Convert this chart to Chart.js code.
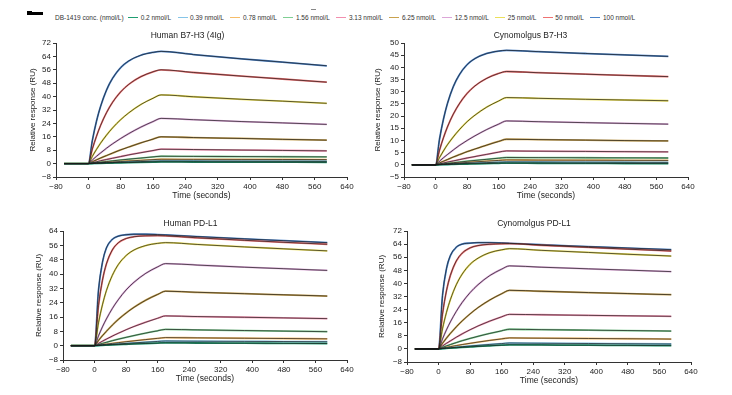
<!DOCTYPE html>
<html>
<head>
<meta charset="utf-8">
<script src="https://cdn.jsdelivr.net/npm/chart.js@4.4.1/dist/chart.umd.min.js"></script>
<style>
  html, body { margin: 0; padding: 0; background: #fff; }
  body { width: 732px; height: 395px; position: relative; overflow: hidden; font-family: 'Liberation Sans', Arial, sans-serif; }
  canvas { position: absolute; }
  #legend { position: absolute; left: 55px; top: 14px; display: flex; align-items: center; font-size: 6.5px; color: #333; white-space: nowrap; }
  #legend .item { display: flex; align-items: center; margin-left: 6.5px; }
  #legend .sw { display: inline-block; width: 10px; height: 1.5px; margin-right: 2.5px; }
  #legend .head { margin-right: -2px; }
  .mark { position: absolute; background: #000; }
</style>
</head>
<body>
<div class="mark" style="left:27px;top:12px;width:16px;height:3px"></div>
<div class="mark" style="left:27px;top:11px;width:5px;height:4px"></div>
<div class="mark" style="left:311px;top:9px;width:5px;height:1px;background:#888"></div>
<div id="legend"></div>
<script>
const FONT = "'Liberation Sans', Arial, sans-serif"
const INK = '#222'

// sample times (s): baseline, association 0-180, dissociation to 590
const times = [-60, 0, 10, 20, 30, 45, 60, 80, 100, 130, 160, 180, 260, 380, 480, 590]

const concLabels = ['0.2 nmol/L', '0.39 nmol/L', '0.78 nmol/L', '1.56 nmol/L', '3.13 nmol/L',
  '6.25 nmol/L', '12.5 nmol/L', '25 nmol/L', '50 nmol/L', '100 nmol/L']

const lineColors = ['#1f9e72', '#86c5e8', '#f6bd6a', '#7fcf93', '#f28fae',
  '#c9a24e', '#dca6d8', '#ece05a', '#ef7272', '#4a82c8']

const timeTicks = [-80, 0, 80, 160, 240, 320, 400, 480, 560, 640]
const yTicksHumanB7H3 = [-8, 0, 8, 16, 24, 32, 40, 48, 56, 64, 72]
const yTicksCynoB7H3 = [-5, 0, 5, 10, 15, 20, 25, 30, 35, 40, 45, 50]
const yTicksHumanPDL1 = [-8, 0, 8, 16, 24, 32, 40, 48, 56, 64]
const yTicksCynoPDL1 = [-8, 0, 8, 16, 24, 32, 40, 48, 56, 64, 72]

// one row per concentration, same order as concLabels
const humanB7H3 = [
  [0, 0, 0.06, 0.13, 0.19, 0.28, 0.37, 0.49, 0.6, 0.76, 0.91, 1.0, 0.95, 0.9, 0.85, 0.8],
  [0, 0, 0.1, 0.21, 0.31, 0.46, 0.6, 0.78, 0.96, 1.21, 1.45, 1.6, 1.55, 1.5, 1.45, 1.4],
  [0, 0, 0.17, 0.34, 0.5, 0.74, 0.97, 1.27, 1.56, 1.97, 2.36, 2.6, 2.55, 2.5, 2.45, 2.4],
  [0, 0, 0.29, 0.57, 0.85, 1.25, 1.65, 2.15, 2.64, 3.33, 3.99, 4.4, 4.3, 4.2, 4.1, 4.0],
  [0, 0, 0.56, 1.1, 1.7, 2.45, 3.2, 4.2, 5.2, 6.5, 7.8, 8.6, 8.4, 8.1, 7.85, 7.6],
  [0, 0, 1.1, 2.2, 3.3, 4.8, 6.3, 8.2, 9.9, 12.4, 14.6, 16, 15.55, 15, 14.5, 14],
  [0, 0, 2.2, 4.3, 6.3, 9.2, 11.8, 15, 17.9, 21.8, 25.1, 27, 26.2, 25.1, 24.3, 23.4],
  [0, 0, 4.4, 8.4, 12.1, 17, 21.3, 26.2, 30.3, 35.3, 39, 41, 39.9, 38.4, 37.3, 36],
  [0, 0, 8.8, 16.2, 22.6, 30.4, 36.6, 42.8, 47.3, 51.9, 54.8, 56, 54.4, 52.2, 50.5, 48.6],
  [0, 0, 13.9, 25.1, 33.9, 43.9, 50.9, 57.3, 61.3, 64.7, 66.4, 67, 65.1, 62.5, 60.6, 58.4]
]

const cynoB7H3 = [
  [0, 0, 0.05, 0.09, 0.14, 0.2, 0.26, 0.34, 0.42, 0.53, 0.63, 0.7, 0.65, 0.6, 0.55, 0.5],
  [0, 0, 0.08, 0.16, 0.23, 0.34, 0.45, 0.59, 0.72, 0.91, 1.09, 1.2, 1.15, 1.1, 1.05, 1.0],
  [0, 0, 0.13, 0.26, 0.39, 0.57, 0.75, 0.98, 1.2, 1.51, 1.81, 2.0, 1.95, 1.9, 1.85, 1.8],
  [0, 0, 0.2, 0.39, 0.58, 0.86, 1.12, 1.47, 1.8, 2.27, 2.72, 3.0, 2.95, 2.9, 2.85, 2.8],
  [0, 0, 0.37, 0.74, 1.1, 1.6, 2.1, 2.8, 3.4, 4.3, 5.2, 5.7, 5.6, 5.5, 5.4, 5.3],
  [0, 0, 0.75, 1.46, 2.16, 3.2, 4.15, 5.4, 6.5, 8.1, 9.6, 10.5, 10.35, 10.15, 9.95, 9.8],
  [0, 0, 1.5, 2.9, 4.2, 6.1, 7.9, 10, 11.9, 14.5, 16.7, 18, 17.7, 17.3, 17, 16.7],
  [0, 0, 2.95, 5.7, 8.2, 11.45, 14.35, 17.7, 20.4, 23.7, 26.2, 27.6, 27.3, 26.9, 26.6, 26.3],
  [0, 0, 6, 11.1, 15.5, 20.8, 25, 29.3, 32.4, 35.5, 37.5, 38.3, 37.8, 37.2, 36.7, 36.2],
  [0, 0, 10.5, 18.7, 25.1, 32.1, 36.9, 41.1, 43.6, 45.7, 46.7, 47, 46.45, 45.7, 45.1, 44.5]
]

const humanPDL1 = [
  [0, 0, 0.1, 0.21, 0.31, 0.46, 0.6, 0.78, 0.96, 1.21, 1.45, 1.6, 1.5, 1.4, 1.3, 1.2],
  [0, 0, 0.17, 0.34, 0.5, 0.74, 0.97, 1.27, 1.56, 1.97, 2.36, 2.6, 2.5, 2.4, 2.3, 2.2],
  [0, 0, 0.29, 0.59, 0.87, 1.28, 1.68, 2.2, 2.7, 3.4, 4.08, 4.5, 4.35, 4.15, 4, 3.8],
  [0, 0, 0.65, 1.26, 1.87, 2.76, 3.6, 4.65, 5.65, 7.05, 8.3, 9.1, 8.8, 8.45, 8.15, 7.8],
  [0, 0, 1.26, 2.5, 3.65, 5.35, 6.9, 8.9, 10.7, 13.1, 15.3, 16.6, 16.25, 15.85, 15.5, 15.1],
  [0, 0, 2.9, 5.6, 8, 11.5, 14.6, 18.2, 21.4, 25.4, 28.6, 30.4, 29.8, 29, 28.4, 27.7],
  [0, 0, 5.5, 10.5, 14.9, 20.7, 25.6, 31.1, 35.4, 40.4, 44, 45.8, 45, 43.8, 42.95, 42],
  [0, 0, 12.8, 22.8, 30.7, 39.2, 45.2, 50.3, 53.4, 55.9, 57.1, 57.5, 56.5, 55.1, 54.05, 52.9],
  [0, 0, 22.3, 36.5, 45.6, 53.4, 57.4, 59.8, 60.8, 61.3, 61.4, 61.3, 60.2, 58.8, 57.7, 56.6],
  [0, 0, 31, 46.5, 54.5, 59.3, 61.1, 61.9, 62.2, 62.2, 62, 61.8, 60.9, 59.6, 58.6, 57.5]
]

const cynoPDL1 = [
  [0, 0, 0.16, 0.33, 0.48, 0.71, 0.94, 1.22, 1.5, 1.89, 2.27, 2.5, 2.4, 2.25, 2.15, 2.0],
  [0, 0, 0.23, 0.47, 0.69, 1.03, 1.35, 1.76, 2.16, 2.73, 3.26, 3.6, 3.45, 3.3, 3.15, 3.0],
  [0, 0, 0.48, 0.93, 1.38, 2.03, 2.65, 3.42, 4.16, 5.19, 6.12, 6.7, 6.55, 6.35, 6.2, 6.0],
  [0, 0, 0.9, 1.8, 2.65, 3.85, 5, 6.4, 7.7, 9.45, 11.05, 12, 11.75, 11.45, 11.2, 10.9],
  [0, 0, 1.75, 3.4, 4.9, 7.15, 9.2, 11.7, 14, 17, 19.6, 21.1, 20.85, 20.5, 20.2, 19.9],
  [0, 0, 3.4, 6.55, 9.45, 13.5, 17.1, 21.4, 25.2, 29.9, 33.7, 35.8, 35.2, 34.4, 33.8, 33.1],
  [0, 0, 6.1, 11.6, 16.5, 22.9, 28.4, 34.4, 39.2, 44.8, 48.7, 50.7, 49.9, 48.9, 48.1, 47.2],
  [0, 0, 12.3, 22.2, 30.1, 39.2, 45.7, 51.7, 55.4, 58.8, 60.5, 61.2, 60.2, 58.9, 57.8, 56.7],
  [0, 0, 21.2, 35.4, 44.9, 53.7, 58.5, 61.7, 63.1, 63.9, 64.2, 64.3, 63.3, 62, 60.9, 59.8],
  [0, 0, 32.6, 48.9, 57, 62.1, 64, 64.6, 64.9, 64.9, 64.7, 64.5, 63.6, 62.5, 61.6, 60.6]
]

// page layout of each plot area (px)
const panels = [
  { title: 'Human B7-H3 (4Ig)', rows: humanB7H3, yTicks: yTicksHumanB7H3, left: 56, top: 43, right: 347, bottom: 177, yW: 28 },
  { title: 'Cynomolgus B7-H3', rows: cynoB7H3, yTicks: yTicksCynoB7H3, left: 404, top: 43, right: 688, bottom: 177, yW: 31 },
  { title: 'Human PD-L1', rows: humanPDL1, yTicks: yTicksHumanPDL1, left: 63, top: 231, right: 347, bottom: 360, yW: 29 },
  { title: 'Cynomolgus PD-L1', rows: cynoPDL1, yTicks: yTicksCynoPDL1, left: 407, top: 231, right: 691, bottom: 362, yW: 30 }
]

const TITLE_H = 12
const X_H = 24
const PAD_R = 10

function fmt (v) {
  return v < 0 ? '\u2212' + Math.abs(v) : String(v)
}

function buildLegend () {
  const el = document.getElementById('legend')
  let html = '<span class="head">DB-1419 conc. (nmol/L)</span>'
  concLabels.forEach((lbl, i) => {
    html += `<span class="item"><span class="sw" style="background:${lineColors[i]}"></span>${lbl}</span>`
  })
  el.innerHTML = html
}

function fixedTicks (list) {
  return scale => { scale.ticks = list.map(v => ({ value: v })) }
}

function makeDatasets (rows) {
  const sets = []
  rows.forEach((row, i) => {
    const pts = times.map((t, j) => ({ x: t, y: row[j] }))
    sets.push({
      label: concLabels[i],
      data: pts,
      borderColor: lineColors[i],
      borderWidth: 1.8,
      order: 1
    })
    sets.push({
      label: concLabels[i] + ' fit',
      data: pts,
      borderColor: '#1a1a1a',
      borderWidth: 0.7,
      order: 0
    })
  })
  return sets
}

function drawPanel (p) {
  const canvas = document.createElement('canvas')
  const cl = p.left - p.yW
  const ct = p.top - TITLE_H
  const w = p.right - cl + PAD_R
  const h = TITLE_H + (p.bottom - p.top) + X_H
  canvas.width = w
  canvas.height = h
  canvas.style.left = cl + 'px'
  canvas.style.top = ct + 'px'
  canvas.style.width = w + 'px'
  canvas.style.height = h + 'px'
  document.body.appendChild(canvas)

  const tickFont = { family: FONT, size: 8 }
  const axisGrid = { drawOnChartArea: false, drawTicks: true, tickLength: 3, color: '#333', lineWidth: 1 }

  new Chart(canvas, {
    type: 'line',
    data: { datasets: makeDatasets(p.rows) },
    options: {
      responsive: false,
      animation: false,
      devicePixelRatio: 1,
      layout: { padding: { left: 0, right: PAD_R, top: 0, bottom: 0 } },
      elements: {
        point: { radius: 0 },
        line: { cubicInterpolationMode: 'monotone', fill: false }
      },
      plugins: {
        legend: { display: false },
        tooltip: { enabled: false },
        title: {
          display: true,
          text: p.title,
          color: INK,
          font: { family: FONT, size: 8.5, weight: 'normal' },
          padding: { top: 0, bottom: TITLE_H - 10.2 }
        }
      },
      scales: {
        x: {
          type: 'linear',
          min: -80,
          max: 640,
          afterBuildTicks: fixedTicks(timeTicks),
          afterFit: s => { s.height = X_H },
          ticks: { autoSkip: false, maxRotation: 0, padding: 2, color: INK, font: tickFont, callback: fmt },
          grid: axisGrid,
          border: { color: '#333', width: 1 },
          title: { display: true, text: 'Time (seconds)', color: INK, padding: 0, font: { family: FONT, size: 8.5 } }
        },
        y: {
          type: 'linear',
          min: p.yTicks[0],
          max: p.yTicks[p.yTicks.length - 1],
          afterBuildTicks: fixedTicks(p.yTicks),
          afterFit: s => { s.width = p.yW },
          ticks: { autoSkip: false, padding: 2, color: INK, font: tickFont, callback: fmt },
          grid: axisGrid,
          border: { color: '#333', width: 1 },
          title: { display: true, text: 'Relative response (RU)', color: INK, padding: 0, font: { family: FONT, size: 8 } }
        }
      }
    }
  })
}

buildLegend()
panels.forEach(drawPanel)
</script>
</body>
</html>
